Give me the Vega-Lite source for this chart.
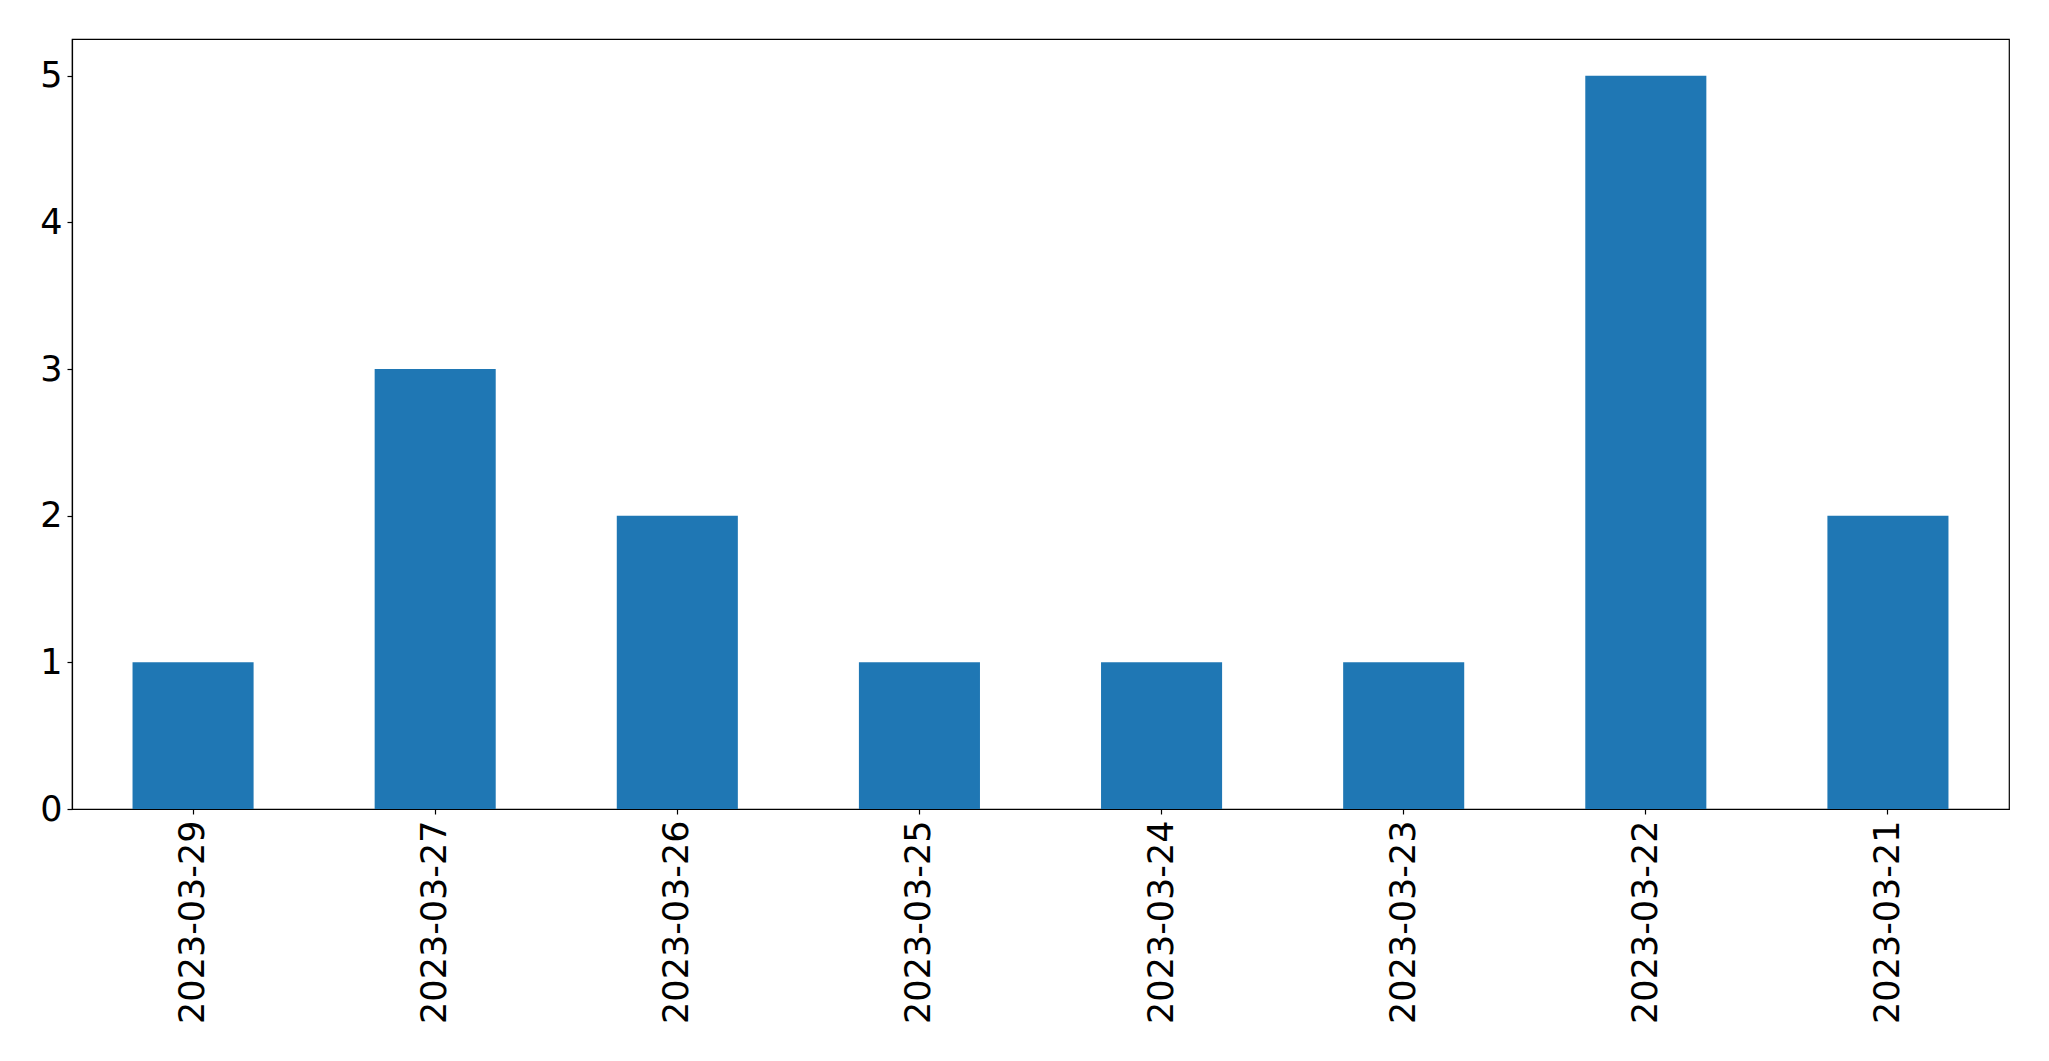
{
  "$schema": "https://vega.github.io/schema/vega-lite/v6.json",
  "width": 1937,
  "height": 770,
  "autosize": "none",
  "padding": {"left": 72, "top": 39, "right": 40, "bottom": 252},
  "background": "white",
  "config": {
    "view": {"stroke": "black", "strokeWidth": 1.2},
    "axis": {
      "labelFont": "DejaVu Sans",
      "labelFontSize": 35,
      "labelColor": "black",
      "labelLimit": 0,
      "tickColor": "black",
      "tickSize": 5,
      "tickWidth": 1.2,
      "domainColor": "black",
      "domainWidth": 1.2,
      "grid": false,
      "title": null
    }
  },
  "data": {
    "values": [
      {"date": "2023-03-29", "count": 1},
      {"date": "2023-03-27", "count": 3},
      {"date": "2023-03-26", "count": 2},
      {"date": "2023-03-25", "count": 1},
      {"date": "2023-03-24", "count": 1},
      {"date": "2023-03-23", "count": 1},
      {"date": "2023-03-22", "count": 5},
      {"date": "2023-03-21", "count": 2}
    ]
  },
  "mark": {"type": "bar", "color": "#1f77b4"},
  "encoding": {
    "x": {
      "field": "date",
      "type": "nominal",
      "sort": null,
      "scale": {"paddingInner": 0.5, "paddingOuter": 0.25},
      "axis": {"labelAngle": 270, "labelPadding": 6}
    },
    "y": {
      "field": "count",
      "type": "quantitative",
      "scale": {"domain": [0, 5.25], "nice": false},
      "axis": {"values": [0, 1, 2, 3, 4, 5], "labelPadding": 5}
    }
  }
}
